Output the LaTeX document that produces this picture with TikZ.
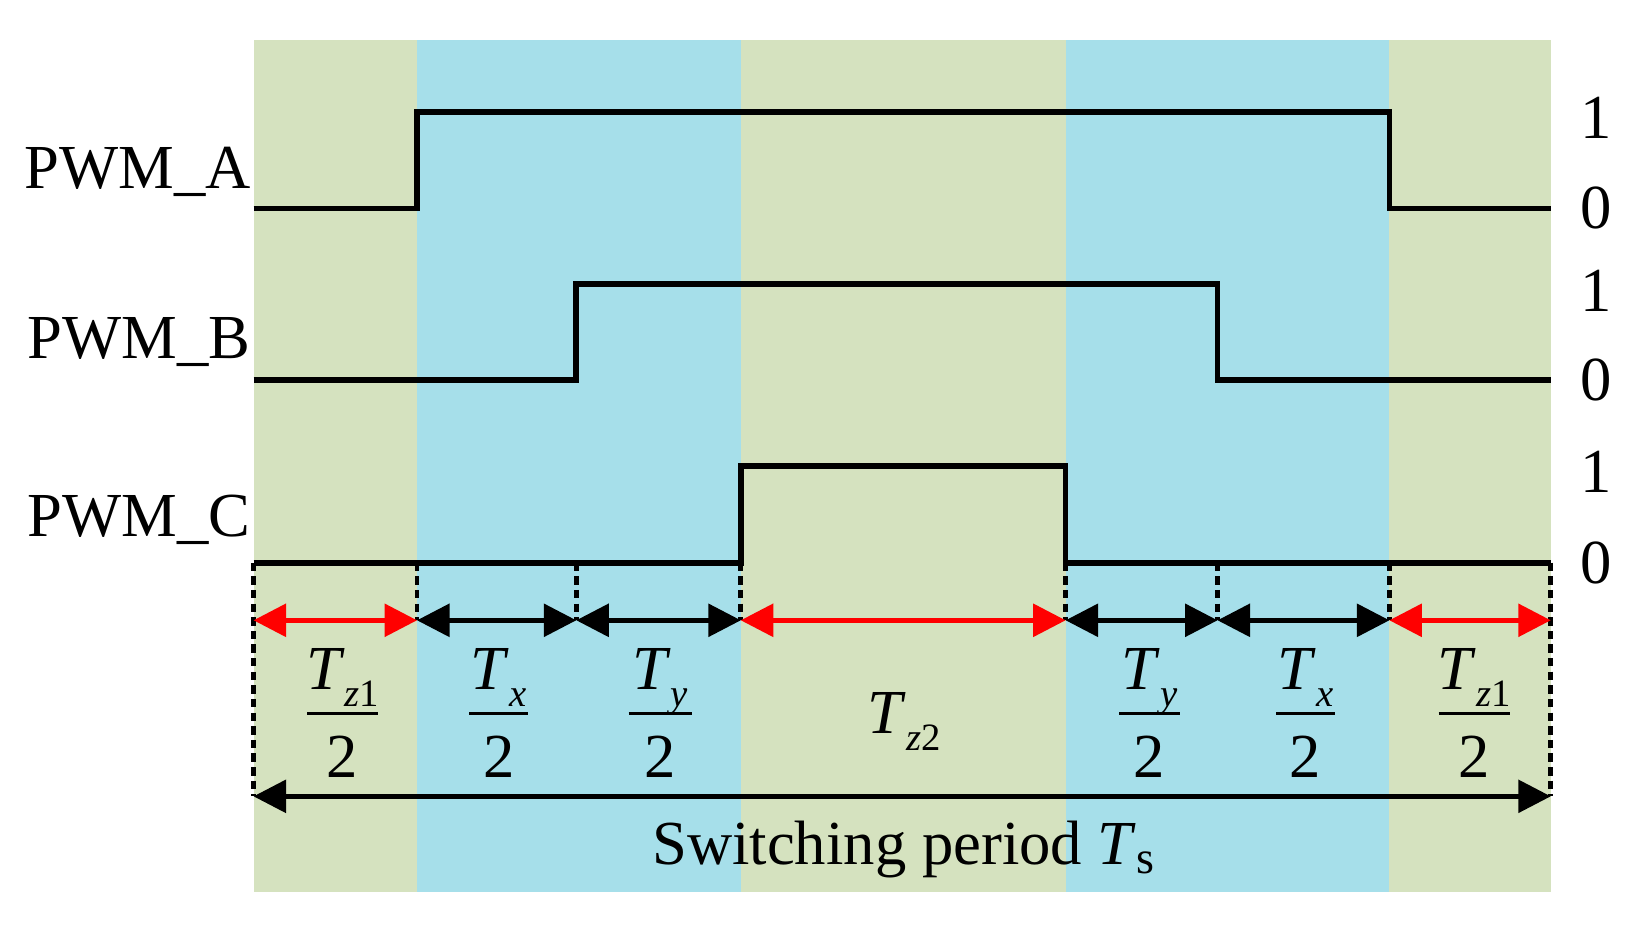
\documentclass[tikz,border=0pt]{standalone}
\usepackage{fontspec}
\setmainfont{Liberation Serif}
\usetikzlibrary{arrows.meta}
\definecolor{bandgreen}{RGB}{213,226,191}
\definecolor{bandblue}{RGB}{166,223,234}
\definecolor{arrowred}{RGB}{255,0,0}
\newcommand{\Tsub}[1]{\textit{T}\raisebox{-4.5pt}{\fontsize{10.5}{11}\selectfont #1}}
\tikzset{
  lbl/.style={font=\fontsize{17}{20}\selectfont, inner sep=0pt},
  sig/.style={line width=1.55pt, line join=miter},
  guide/.style={line width=1.25pt, dash pattern=on 0.08cm off 0.05cm},
  tri/.tip={Triangle[length=0.31cm,width=0.31cm]},
  dimblack/.style={line width=1.2pt, black, tri-tri},
  dimredarrow/.style={line width=1.2pt, arrowred, tri-tri},
  fracbar/.style={line width=0.75pt},
}
\newcommand{\frlabel}[4]{%
  \node[lbl, anchor=base] (#1n) at (#2,658) {\Tsub{#3}};
  \draw[fracbar] (#2-#4,681) -- (#2+#4,681);
  \node[lbl, anchor=base] (#1d) at (#2,742) {2};
}
\begin{document}
\begin{tikzpicture}[x=0.01cm,y=-0.01cm]
\useasboundingbox (0,0) rectangle (1569,882);
% background bands
\fill[bandgreen] (242,38) rectangle (398,851);
\fill[bandblue]  (398,38) rectangle (707,851);
\fill[bandgreen] (707,38) rectangle (1017,851);
\fill[bandblue]  (1017,38) rectangle (1326,851);
\fill[bandgreen] (1326,38) rectangle (1480,851);
% signals
\draw[sig] (242,199) -- (398,199) -- (398,107) -- (1326,107) -- (1326,199) -- (1480,199);
\draw[sig] (242,363) -- (550,363) -- (550,271) -- (1162,271) -- (1162,363) -- (1480,363);
\draw[sig] (242,537) -- (707,537) -- (707,445) -- (1017,445) -- (1017,537) -- (1480,537);
% signal names
\node[lbl, anchor=base east] (pwma) at (240,180) {PWM\_A};
\node[lbl, anchor=base east] (pwmb) at (240,342) {PWM\_B};
\node[lbl, anchor=base east] (pwmc) at (240,512) {PWM\_C};
% levels
\node[lbl, anchor=base] (a1) at (1523,132) {1};
\node[lbl, anchor=base] (a0) at (1523,218) {0};
\node[lbl, anchor=base] (b1) at (1523,297) {1};
\node[lbl, anchor=base] (b0) at (1523,382) {0};
\node[lbl, anchor=base] (c1) at (1523,470) {1};
\node[lbl, anchor=base] (c0) at (1523,557) {0};
% guide coordinates
\foreach \n/\x in {0/242,1/398,2/550,3/707,4/1017,5/1162,6/1326,7/1480}{
  \coordinate (u\n) at (\x,537);
  \coordinate (m\n) at (\x,592);
}
\coordinate (l0) at (242,760);
\coordinate (l7) at (1480,760);
% dashed guides
\draw[guide] (u0) -- (l0);
\draw[guide] (u7) -- (l7);
\foreach \n in {1,...,6}{ \draw[guide] (u\n) -- (m\n); }
% interval arrows
\draw[dimredarrow] (m0) -- (m1);
\draw[dimblack] (m1) -- (m2);
\draw[dimblack] (m2) -- (m3);
\draw[dimredarrow] (m3) -- (m4);
\draw[dimblack] (m4) -- (m5);
\draw[dimblack] (m5) -- (m6);
\draw[dimredarrow] (m6) -- (m7);
% period arrow
\draw[dimblack] (l0) -- (l7);
% interval labels
\frlabel{f1}{327}{\textit{z}1}{34}
\frlabel{f2}{476}{\textit{x}}{28}
\frlabel{f3}{630}{\textit{y}}{30}
\node[lbl, anchor=base] (tz2) at (863,700) {\Tsub{\textit{z}2}};
\frlabel{f5}{1097}{\textit{y}}{29}
\frlabel{f6}{1246}{\textit{x}}{28}
\frlabel{f7}{1407}{\textit{z}1}{34}
\node[lbl, anchor=base] (ts) at (862,825) {Switching period \textit{T}\raisebox{-2.5pt}{\fontsize{12.5}{13}\selectfont s}};
\end{tikzpicture}
\end{document}
